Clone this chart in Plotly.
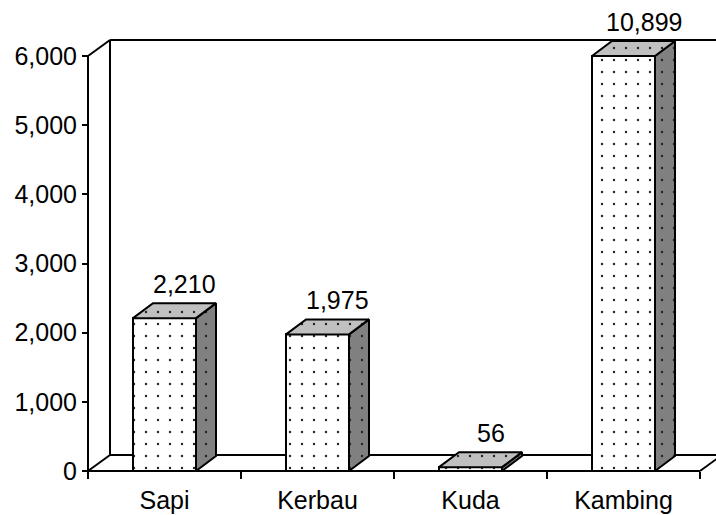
import plotly.graph_objects as go

# ---- data ----
categories = ["Sapi", "Kerbau", "Kuda", "Kambing"]
values = [2210, 1975, 56, 10899]
y_tick_vals = [0, 1000, 2000, 3000, 4000, 5000, 6000]
y_tick_text = ["0", "1,000", "2,000", "3,000", "4,000", "5,000", "6,000"]
y_max = 6000

# ---- geometry (pixels) ----
W, H = 716, 515
AX_X = 88          # pixel x of the value axis
AX_Y = 471         # pixel y of the zero line
PX_CAT = 153       # pixels per category
PX_UNIT = 415 / 6000.0  # pixels per value unit
ML, MR, MT, MB = 80, 0, 30, 37

n = len(categories)
x0 = -0.5 - (AX_X - ML) / PX_CAT
x1 = -0.5 + (W - MR - AX_X) / PX_CAT
y0 = -(H - MB - AX_Y) / PX_UNIT
y1 = (AX_Y - MT) / PX_UNIT

# depth offsets
dxw, dyw = 22 / PX_CAT, 16 / PX_UNIT     # walls
dxb, dyb = 20 / PX_CAT, 15 / PX_UNIT     # bars
bw = 63 / PX_CAT

shown = [min(v, y_max) for v in values]
xs = list(range(n))

FONT = "Arial, Liberation Sans, sans-serif"
dots = dict(shape=".", fgcolor="#222222", size=12, solidity=0.03, fillmode="replace")

fig = go.Figure()

# front faces
fig.add_trace(go.Bar(
    x=xs, y=shown, width=bw,
    marker=dict(color="white", line=dict(color="black", width=2),
                pattern=dict(bgcolor="white", **dots)),
    hoverinfo="skip", showlegend=False))

# side faces
sx, sy = [], []
for c, h in zip(xs, shown):
    r = c + bw / 2
    sx += [r, r + dxb, r + dxb, r, r, None]
    sy += [0, dyb, h + dyb, h, 0, None]
fig.add_trace(go.Scatter(
    x=sx, y=sy, mode="lines", fill="toself", fillcolor="#808080",
    fillpattern=dict(bgcolor="#808080", **dots),
    line=dict(color="black", width=2), hoverinfo="skip", showlegend=False))

# top faces
tx, ty = [], []
for c, h in zip(xs, shown):
    l, r = c - bw / 2, c + bw / 2
    tx += [l, r, r + dxb, l + dxb, l, None]
    ty += [h, h, h + dyb, h + dyb, h, None]
fig.add_trace(go.Scatter(
    x=tx, y=ty, mode="lines", fill="toself", fillcolor="#c0c0c0",
    fillpattern=dict(bgcolor="#c0c0c0", **dots),
    line=dict(color="black", width=2), hoverinfo="skip", showlegend=False))

# frame (walls & floor)
L = -0.5
R = n - 0.5
frame = [
    (L + dxw, dyw, L + dxw, y_max + dyw),
    (L + dxw, y_max + dyw, x1, y_max + dyw),
    (L + dxw, dyw, x1, dyw),
    (L, 0, L + dxw, dyw),
    (L, y_max, L + dxw, y_max + dyw),
    (L, 0, L, y_max),
    (L, 0, R, 0),
    (R, 0, R + dxw, dyw),
]
shapes = [dict(type="line", xref="x", yref="y", x0=a, y0=b, x1=c, y1=d,
               line=dict(color="black", width=2), layer="below")
          for a, b, c, d in frame]

annotations = [dict(x=c, y=h + dyb, xref="x", yref="y", text=f"{v:,}",
                    showarrow=False, xshift=20, yshift=19, yanchor="middle",
                    xanchor="center", font=dict(family=FONT, size=25, color="black"))
               for c, h, v in zip(xs, shown, values)]

fig.update_layout(
    width=W, height=H,
    margin=dict(l=ML, r=MR, t=MT, b=MB, autoexpand=False),
    paper_bgcolor="white", plot_bgcolor="rgba(0,0,0,0)",
    showlegend=False, bargap=0,
    shapes=shapes, annotations=annotations,
    font=dict(family=FONT, size=25, color="black"),
    xaxis=dict(range=[x0, x1], anchor="free", automargin=False,
               position=(H - MB - AX_Y) / (H - MT - MB),
               tickmode="array", tickvals=xs, ticktext=categories,
               ticks="outside", ticklen=7, tickcolor="rgba(0,0,0,0)",
               minor=dict(tickmode="array", tickvals=[i - 0.5 for i in range(n + 1)],
                          ticks="outside", ticklen=7, tickwidth=2, tickcolor="black",
                          showgrid=False),
               showline=False, showgrid=False, zeroline=False, fixedrange=True,
               tickfont=dict(family=FONT, size=25, color="black")),
    yaxis=dict(range=[y0, y1], anchor="free", automargin=False,
               position=(AX_X - ML) / (W - ML - MR),
               tickmode="array", tickvals=y_tick_vals, ticktext=y_tick_text,
               ticks="outside", ticklen=6, tickwidth=2, tickcolor="black",
               showline=False, showgrid=False, zeroline=False, fixedrange=True,
               tickfont=dict(family=FONT, size=25, color="black")),
)

fig.write_html("out.html", config={"displayModeBar": False},
               post_script="document.body.style.margin='0';")
